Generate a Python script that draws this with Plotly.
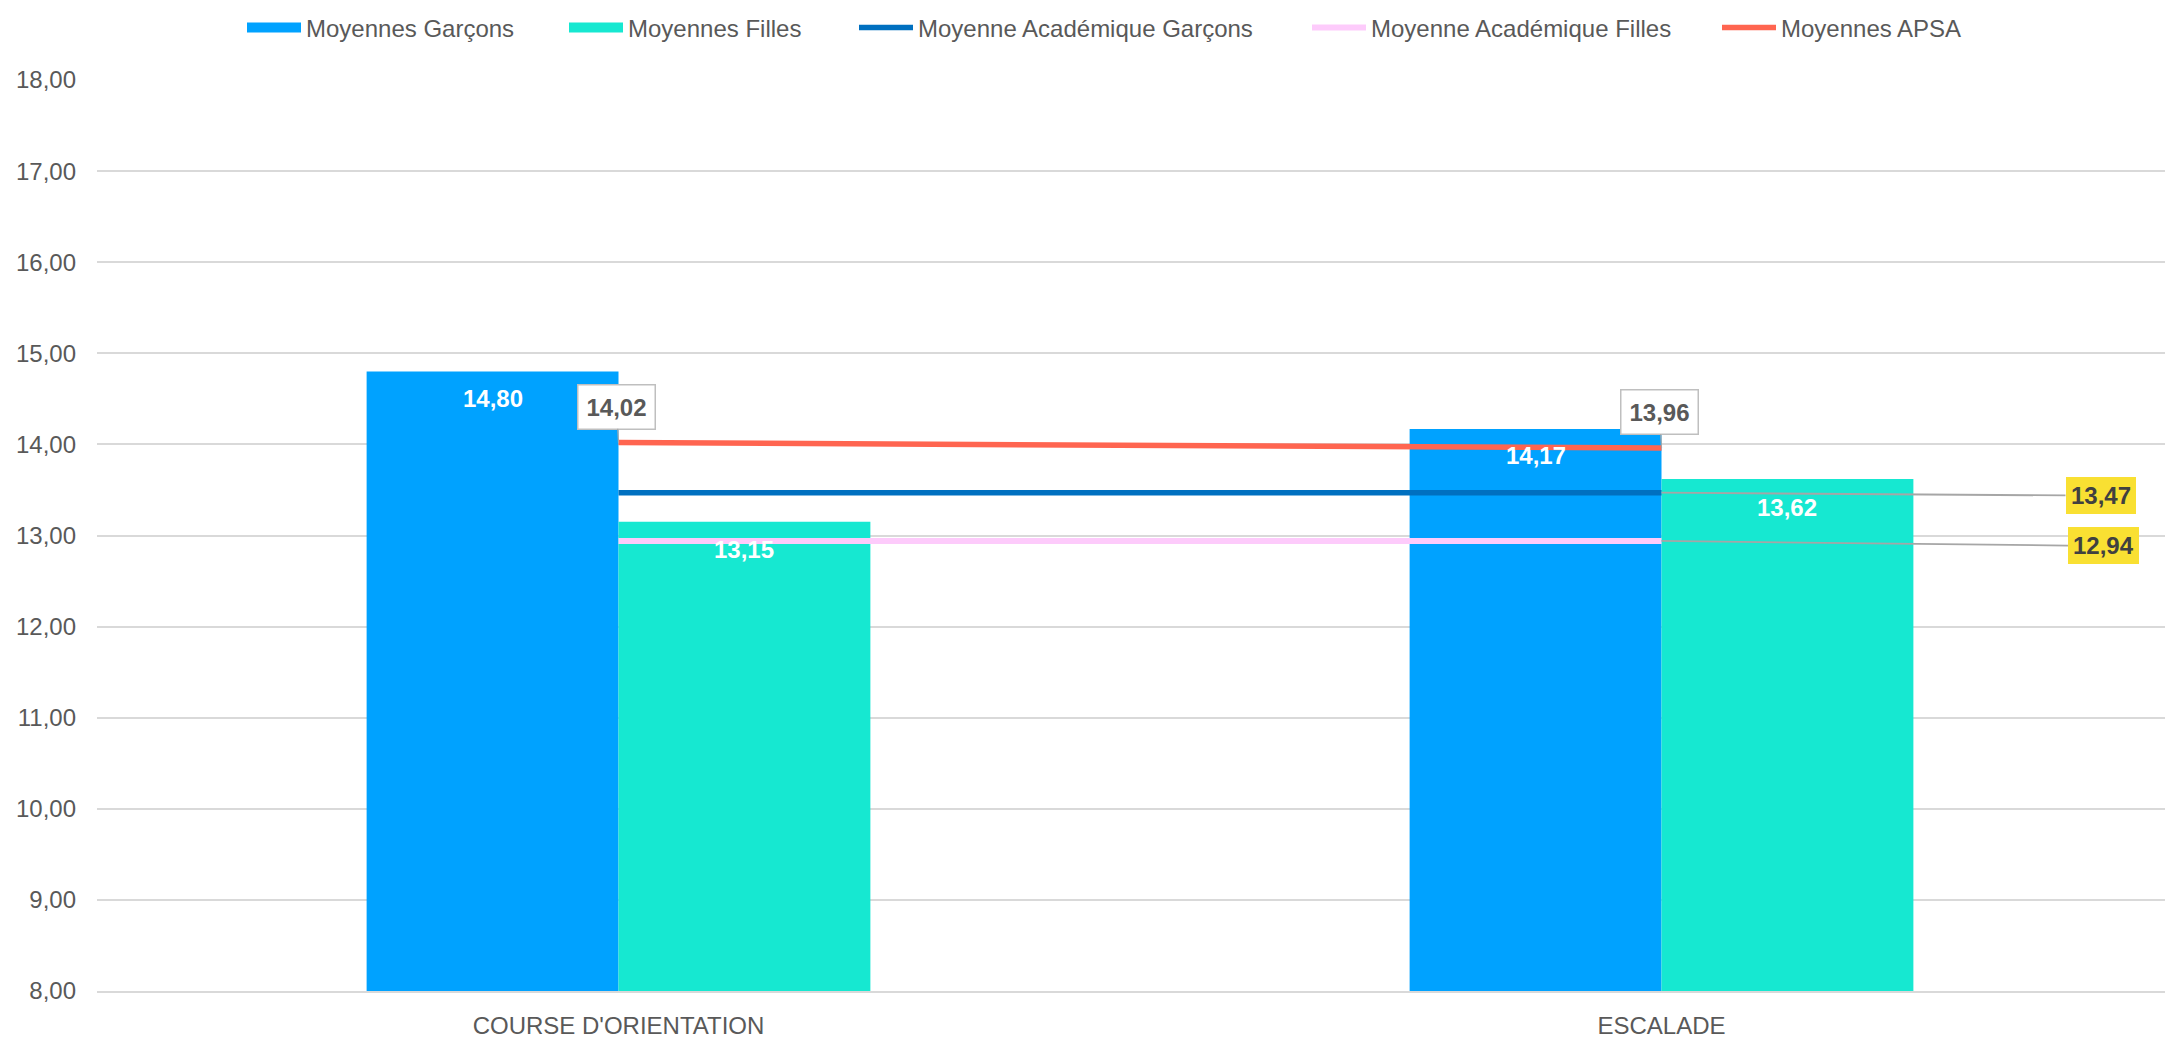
import plotly.graph_objects as go

# ---- data ----
categories = ["COURSE D'ORIENTATION", "ESCALADE"]
moyennes_garcons = [14.80, 14.17]
moyennes_filles = [13.15, 13.62]
moyenne_acad_garcons = [13.47, 13.47]
moyenne_acad_filles = [12.94, 12.94]
moyennes_apsa = [14.02, 13.96]
y_tick_values = [8, 9, 10, 11, 12, 13, 14, 15, 16, 17, 18]
series_names = ["Moyennes Garçons", "Moyennes Filles", "Moyenne Académique Garçons",
                "Moyenne Académique Filles", "Moyennes APSA"]

# ---- style ----
C_GARCONS = "#00A2FF"
C_FILLES = "#16E8D1"
C_ACAD_G = "#0070C0"
C_ACAD_F = "#FDCBFB"
C_APSA = "#FF6550"
C_TEXT = "#595959"
C_GRID = "#D9D9D9"
FONT = "Liberation Sans, Arial, sans-serif"
FS = 24

W, H = 2165, 1039
M_L, M_R, M_T, M_B = 97, 0, 80, 42
BARGAP = 0.517
PLOT_W = W - M_L - M_R
BAND_PX = 1043
x_range = [-0.5, -0.5 + PLOT_W / BAND_PX]


def fmt(v):
    return f"{v:.2f}".replace(".", ",")


fig = go.Figure()

# bars (legend entries shown through swatch proxies in the same legend group)
fig.add_trace(go.Bar(x=categories, y=moyennes_garcons, name=series_names[0],
                     marker=dict(color=C_GARCONS, line=dict(width=0)),
                     legendgroup="g", showlegend=False))
fig.add_trace(go.Bar(x=categories, y=moyennes_filles, name=series_names[1],
                     marker=dict(color=C_FILLES, line=dict(width=0)),
                     legendgroup="f", showlegend=False))
fig.add_trace(go.Scatter(x=[None], y=[None], name=series_names[0], mode="lines",
                         line=dict(color=C_GARCONS, width=17), legendgroup="g",
                         legend="legend", hoverinfo="skip"))
fig.add_trace(go.Scatter(x=[None], y=[None], name=series_names[1], mode="lines",
                         line=dict(color=C_FILLES, width=17), legendgroup="f",
                         legend="legend2", hoverinfo="skip"))

fig.add_trace(go.Scatter(x=categories, y=moyenne_acad_garcons, name=series_names[2], mode="lines",
                         line=dict(color=C_ACAD_G, width=5.5), legend="legend3"))
fig.add_trace(go.Scatter(x=categories, y=moyenne_acad_filles, name=series_names[3], mode="lines",
                         line=dict(color=C_ACAD_F, width=6), legend="legend4"))
fig.add_trace(go.Scatter(x=categories, y=moyennes_apsa, name=series_names[4], mode="lines",
                         line=dict(color=C_APSA, width=5.5), legend="legend5"))

annotations = []
off = (1 - BARGAP) / 4
for i, v in enumerate(moyennes_garcons):
    annotations.append(dict(x=i - off, y=v, xref="x", yref="y", text="<b>" + fmt(v) + "</b>",
                            showarrow=False, yshift=-27, font=dict(color="white", size=FS, family=FONT)))
for i, v in enumerate(moyennes_filles):
    annotations.append(dict(x=i + off, y=v, xref="x", yref="y", text="<b>" + fmt(v) + "</b>",
                            showarrow=False, yshift=-28, font=dict(color="white", size=FS, family=FONT)))
for i, v in enumerate(moyennes_apsa):
    annotations.append(dict(x=i, y=v, xref="x", yref="y", text="<b>" + fmt(v) + "</b>",
                            showarrow=True, arrowhead=0, arrowwidth=1.2, arrowcolor="#A6A6A6",
                            ax=-2, ay=-36, standoff=0,
                            bgcolor="white", bordercolor="#BFBFBF", borderwidth=1.5, borderpad=8,
                            font=dict(color=C_TEXT, size=FS, family=FONT)))
for vals, ax, ay in [(moyenne_acad_garcons, 439, 3), (moyenne_acad_filles, 442, 5)]:
    v = vals[-1]
    annotations.append(dict(x=len(vals) - 1, y=v, xref="x", yref="y", text="<b>" + fmt(v) + "</b>",
                            showarrow=True, arrowhead=0, arrowwidth=1.8, arrowcolor="#A6A6A6",
                            ax=ax, ay=ay, standoff=0,
                            bgcolor="#F9E032", borderwidth=0, borderpad=5,
                            font=dict(color="#404040", size=FS, family=FONT)))

legend_common = dict(orientation="h", yanchor="middle", y=1.0571, xanchor="left",
                     itemwidth=54, bgcolor="rgba(0,0,0,0)",
                     font=dict(color=C_TEXT, size=FS, family=FONT))
legend_px = [242, 564, 854, 1307, 1717]
legend_x = [(p - M_L) / PLOT_W for p in legend_px]

fig.update_layout(
    width=W, height=H, autosize=False,
    margin=dict(l=M_L, r=M_R, t=M_T, b=M_B, pad=0),
    paper_bgcolor="white", plot_bgcolor="white",
    barmode="group", bargap=BARGAP, bargroupgap=0,
    separators=", ",
    font=dict(family=FONT, size=FS, color=C_TEXT),
    showlegend=True,
    legend=dict(x=legend_x[0], **legend_common),
    legend2=dict(x=legend_x[1], **legend_common),
    legend3=dict(x=legend_x[2], **legend_common),
    legend4=dict(x=legend_x[3], **legend_common),
    legend5=dict(x=legend_x[4], **legend_common),
    xaxis=dict(type="category", range=x_range, showgrid=False, showline=True,
               linecolor=C_GRID, linewidth=2, ticks="", ticklabelstandoff=12,
               tickfont=dict(size=FS, color=C_TEXT, family=FONT), fixedrange=True),
    yaxis=dict(range=[8, 18], tickvals=y_tick_values, tickformat=".2f",
               showgrid=True, gridcolor=C_GRID, gridwidth=1.6, zeroline=False,
               showline=False, ticks="", ticklabelstandoff=20,
               tickfont=dict(size=FS, color=C_TEXT, family=FONT), fixedrange=True),
    annotations=annotations,
)

fig.write_html("out.html", config={"displayModeBar": False},
               post_script="document.body.style.margin='0';")
